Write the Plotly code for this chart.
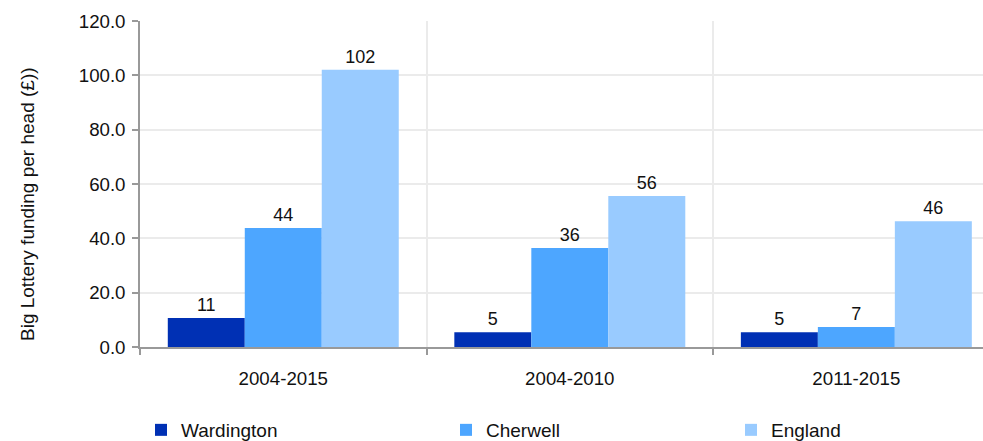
import plotly.graph_objects as go

categories = ["2004-2015", "2004-2010", "2011-2015"]
wardington = [10.7, 5.4, 5.4]
cherwell = [43.8, 36.4, 7.4]
england = [102.1, 55.6, 46.3]
y_ticks = [0, 20, 40, 60, 80, 100, 120]
y_title = "Big Lottery funding per head (£))"

colors = {"Wardington": "#0030b4", "Cherwell": "#4da6ff", "England": "#99cbff"}
FONT = "Liberation Sans, Arial, sans-serif"
FS = 18.7

W, H = 983, 441
PL, PT, PB, PR = 140, 21, 347, 983  # plot-area edges in page pixels

fig = go.Figure()
series = [("Wardington", wardington, "legend2"), ("Cherwell", cherwell, "legend3"), ("England", england, "legend4")]
for name, vals, lg in series:
    fig.add_trace(go.Bar(
        x=categories, y=vals, name=name, legend=lg,
        marker=dict(color=colors[name], line=dict(width=0)),
        texttemplate="%{y:.0f}", textposition="outside",
        textfont=dict(family=FONT, size=18, color="#111"),
        cliponaxis=False,
    ))

leg_y = 1 - 430 / H
legend_common = dict(orientation="h", xref="container", yref="container",
                     xanchor="left", yanchor="middle",
                     font=dict(family=FONT, size=19, color="#111"),
                     bgcolor="rgba(0,0,0,0)", itemwidth=30)

fig.add_annotation(
    text=y_title, textangle=-90, showarrow=False,
    xref="paper", yref="paper",
    x=(27 - PL) / (PR - PL), y=(PB - 204) / (PB - PT),
    xanchor="center", yanchor="middle",
    font=dict(family=FONT, size=19, color="#111"),
)

fig.update_layout(
    width=W, height=H,
    margin=dict(l=PL, r=W - PR, t=PT, b=H - PB, pad=0),
    paper_bgcolor="white", plot_bgcolor="white",
    barmode="group", bargap=0.194, bargroupgap=0,
    font=dict(family=FONT, size=FS, color="#111"),
    showlegend=True,
    legend2=dict(x=141 / W, y=leg_y, **legend_common),
    legend3=dict(x=446 / W, y=leg_y, **legend_common),
    legend4=dict(x=731 / W, y=leg_y, **legend_common),
    xaxis=dict(
        type="category", range=[-0.5, 2.442],
        tickson="boundaries", ticks="outside", ticklen=6, tickcolor="#999", tickwidth=1.5,
        showline=True, linecolor="#999", linewidth=1.5,
        showgrid=True, gridcolor="#ebebeb", gridwidth=1.5,
        tickfont=dict(family=FONT, size=FS, color="#111"),
        ticklabelstandoff=14,
    ),
    yaxis=dict(
        range=[0, 120], tickvals=y_ticks, tickformat=".1f",
        ticks="outside", ticklen=6, tickcolor="#999", tickwidth=1.5,
        showline=True, linecolor="#999", linewidth=1.5,
        showgrid=True, gridcolor="#ebebeb", gridwidth=1.5,
        zeroline=False,
        tickfont=dict(family=FONT, size=FS, color="#111"),
        ticklabelstandoff=3,
    ),
)

fig.write_html(
    "out.html",
    config={"displayModeBar": False},
    post_script="document.body.style.margin='0';document.body.style.overflow='hidden';",
)
